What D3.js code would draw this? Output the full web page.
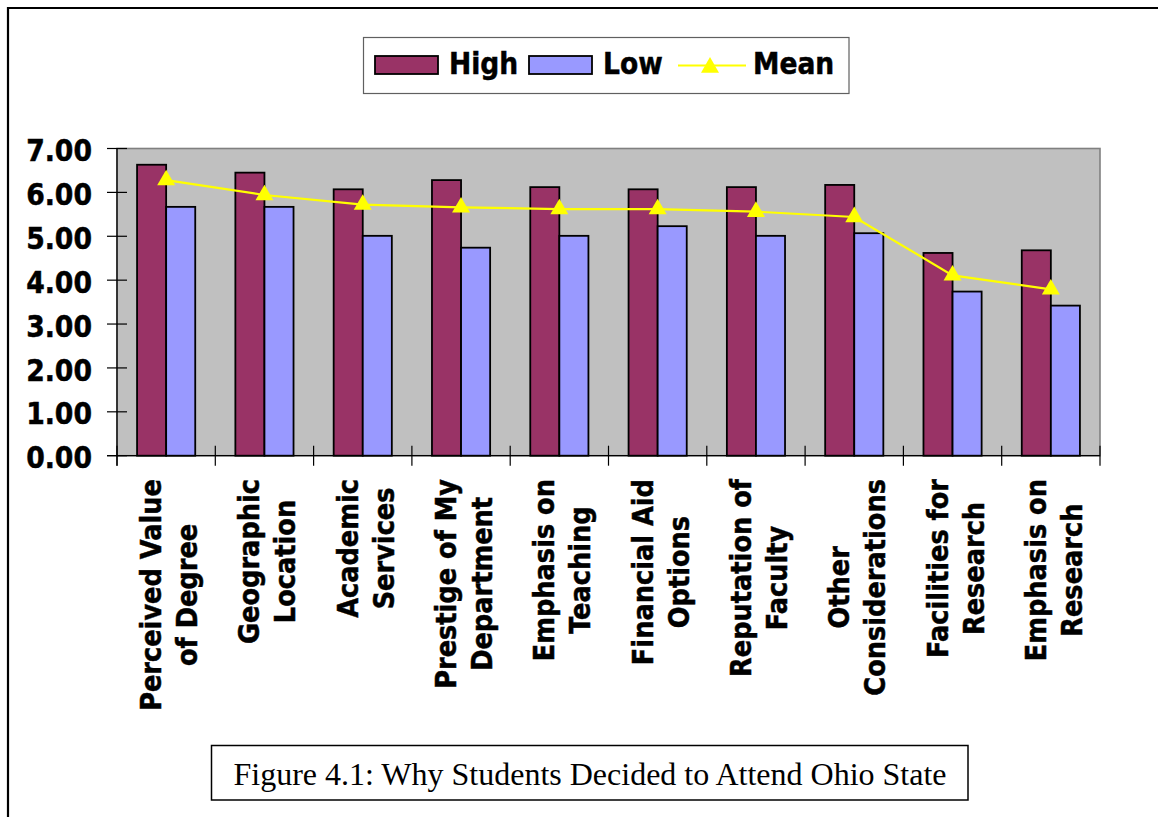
<!DOCTYPE html>
<html>
<head>
<meta charset="utf-8">
<script src="https://cdn.jsdelivr.net/npm/d3@7"></script>
<style>
  html, body { margin: 0; padding: 0; background: #fff; }
  svg { display: block; }
</style>
</head>
<body>
<script>
// ---- data ----
const categories = [
  "Perceived Value\nof Degree",
  "Geographic\nLocation",
  "Academic\nServices",
  "Prestige of My\nDepartment",
  "Emphasis on\nTeaching",
  "Financial Aid\nOptions",
  "Reputation of\nFaculty",
  "Other\nConsiderations",
  "Facilities for\nResearch",
  "Emphasis on\nResearch"
];
const highValues = [6.63, 6.45, 6.07, 6.28, 6.12, 6.07, 6.12, 6.17, 4.62, 4.68];
const lowValues  = [5.67, 5.67, 5.01, 4.74, 5.01, 5.23, 5.01, 5.07, 3.74, 3.42];
const meanValues = [6.28, 5.94, 5.72, 5.66, 5.62, 5.62, 5.56, 5.44, 4.11, 3.79];
const seriesNames = ["High", "Low", "Mean"];
const yTickValues = [0, 1, 2, 3, 4, 5, 6, 7];
const captionText = "Figure 4.1: Why Students Decided to Attend Ohio State";

// ---- styles / layout ----
const W = 1158, H = 817;
const colors = { High: "#993366", Low: "#9999FF", Mean: "#FFFF00" };
const boldFont = "'DejaVu Sans', Verdana, sans-serif";
const textStroke = 0.5;
const plot = { left: 117, right: 1100, top: 148.5, bottom: 455.7 };

const svg = d3.select("body").append("svg").attr("width", W).attr("height", H);

// outer frame (top and left edges)
svg.append("line").attr("x1", 7).attr("x2", W).attr("y1", 8).attr("y2", 8)
  .attr("stroke", "#000").attr("stroke-width", 2.2);
svg.append("line").attr("x1", 8).attr("x2", 8).attr("y1", 7).attr("y2", H)
  .attr("stroke", "#000").attr("stroke-width", 2.2);

// scales
const x = d3.scaleBand().domain(categories).range([plot.left, plot.right]).paddingInner(0).paddingOuter(0);
const xs = d3.scaleBand().domain(["High", "Low"]).range([0, x.bandwidth()]).paddingInner(0).paddingOuter(0.69);
const y = d3.scaleLinear().domain([0, 7]).range([plot.bottom, plot.top]);

// plot area
svg.append("rect")
  .attr("x", plot.left).attr("y", plot.top)
  .attr("width", plot.right - plot.left).attr("height", plot.bottom - plot.top)
  .attr("fill", "#C0C0C0").attr("stroke", "#808080").attr("stroke-width", 1.6);

// bars
const data = categories.map((c, i) => ({ c, High: highValues[i], Low: lowValues[i], Mean: meanValues[i] }));
const groups = svg.append("g").selectAll("g").data(data).join("g")
  .attr("transform", d => `translate(${x(d.c)},0)`);
groups.selectAll("rect").data(d => ["High", "Low"].map(k => ({ k, v: d[k] }))).join("rect")
  .attr("x", d => xs(d.k)).attr("width", xs.bandwidth())
  .attr("y", d => y(d.v)).attr("height", d => y(0) - y(d.v))
  .attr("fill", d => colors[d.k]).attr("stroke", "#000").attr("stroke-width", 1.8);

// axes lines
svg.append("line").attr("x1", plot.left).attr("x2", plot.left).attr("y1", plot.top).attr("y2", plot.bottom + 10)
  .attr("stroke", "#000").attr("stroke-width", 1.3);
svg.append("line").attr("x1", plot.left - 10).attr("x2", plot.right).attr("y1", plot.bottom).attr("y2", plot.bottom)
  .attr("stroke", "#000").attr("stroke-width", 1.3);

// y ticks & labels
const yAxis = svg.append("g");
yTickValues.forEach(v => {
  yAxis.append("line").attr("x1", plot.left - 10).attr("x2", plot.left + 10)
    .attr("y1", y(v)).attr("y2", y(v)).attr("stroke", "#000").attr("stroke-width", 1.2);
  yAxis.append("text")
    .attr("transform", `translate(${plot.left - 25},${y(v)}) scale(0.89,1)`)
    .attr("dy", "0.42em")
    .attr("text-anchor", "end")
    .attr("font-family", boldFont).attr("font-weight", "bold").attr("font-size", 30)
    .attr("fill", "#000").attr("stroke", "#000").attr("stroke-width", textStroke)
    .text(d3.format(".2f")(v));
});

// x ticks at band boundaries
const xBounds = categories.map(c => x(c)).concat([x(categories[categories.length - 1]) + x.bandwidth()]);
svg.append("g").selectAll("line").data(xBounds).join("line")
  .attr("x1", d => d).attr("x2", d => d)
  .attr("y1", plot.bottom - 10).attr("y2", plot.bottom + 10)
  .attr("stroke", "#000").attr("stroke-width", 1.2);

// x labels (rotated, centered lines, block top aligned)
const labelTop = 479;
const labelScale = 0.9;
categories.forEach(c => {
  const lines = c.split("\n");
  const cx = x(c) + x.bandwidth() / 2;
  const g = svg.append("g");
  const texts = lines.map((ln, j) => g.append("text")
    .attr("x", 0).attr("y", -5 + j * 36)
    .attr("text-anchor", "middle")
    .attr("font-family", boldFont).attr("font-weight", "bold").attr("font-size", 28.5)
    .attr("fill", "#000").attr("stroke", "#000").attr("stroke-width", textStroke)
    .text(ln));
  const maxLen = d3.max(texts, t => t.node().getComputedTextLength()) * labelScale;
  g.attr("transform", `translate(${cx},${labelTop + maxLen / 2}) rotate(-90) scale(${labelScale},1)`);
});

// mean line + markers
const line = d3.line().x(d => x(d.c) + x.bandwidth() / 2).y(d => y(d.Mean));
svg.append("path").datum(data).attr("d", line)
  .attr("fill", "none").attr("stroke", colors.Mean).attr("stroke-width", 2.2);
const tri = d3.symbol().type(d3.symbolTriangle).size(140);
svg.append("g").selectAll("path").data(data).join("path")
  .attr("transform", d => `translate(${x(d.c) + x.bandwidth() / 2},${y(d.Mean)})`)
  .attr("d", tri).attr("fill", colors.Mean);

// legend
const legend = svg.append("g");
legend.append("rect").attr("x", 363.5).attr("y", 37.5).attr("width", 485.5).attr("height", 56)
  .attr("fill", "#fff").attr("stroke", "#606060").attr("stroke-width", 1.2);
const legendItems = [
  { name: seriesNames[0], sx: 375, tx: 449 },
  { name: seriesNames[1], sx: 529, tx: 603 },
  { name: seriesNames[2], sx: 678, tx: 753 }
];
legendItems.forEach(it => {
  if (it.name === "Mean") {
    legend.append("line").attr("x1", it.sx).attr("x2", it.sx + 68).attr("y1", 65.5).attr("y2", 65.5)
      .attr("stroke", colors.Mean).attr("stroke-width", 2.2);
    legend.append("path").attr("transform", `translate(${it.sx + 32},67.5)`).attr("d", tri).attr("fill", colors.Mean);
  } else {
    legend.append("rect").attr("x", it.sx).attr("y", 56).attr("width", 63).attr("height", 18)
      .attr("fill", colors[it.name]).attr("stroke", "#000").attr("stroke-width", 1.8);
  }
  legend.append("text")
    .attr("transform", `translate(${it.tx},74.3) scale(0.9,1)`)
    .attr("font-family", boldFont).attr("font-weight", "bold").attr("font-size", 29.5)
    .attr("fill", "#000").attr("stroke", "#000").attr("stroke-width", textStroke)
    .text(it.name);
});

// caption box
svg.append("rect").attr("x", 211.5).attr("y", 745.5).attr("width", 756.5).attr("height", 54.5)
  .attr("fill", "#fff").attr("stroke", "#000").attr("stroke-width", 1.5);
svg.append("text").attr("x", 590).attr("y", 785)
  .attr("text-anchor", "middle")
  .attr("font-family", "'Liberation Serif', 'Times New Roman', serif").attr("font-size", 32)
  .attr("fill", "#000").text(captionText);
</script>
</body>
</html>
